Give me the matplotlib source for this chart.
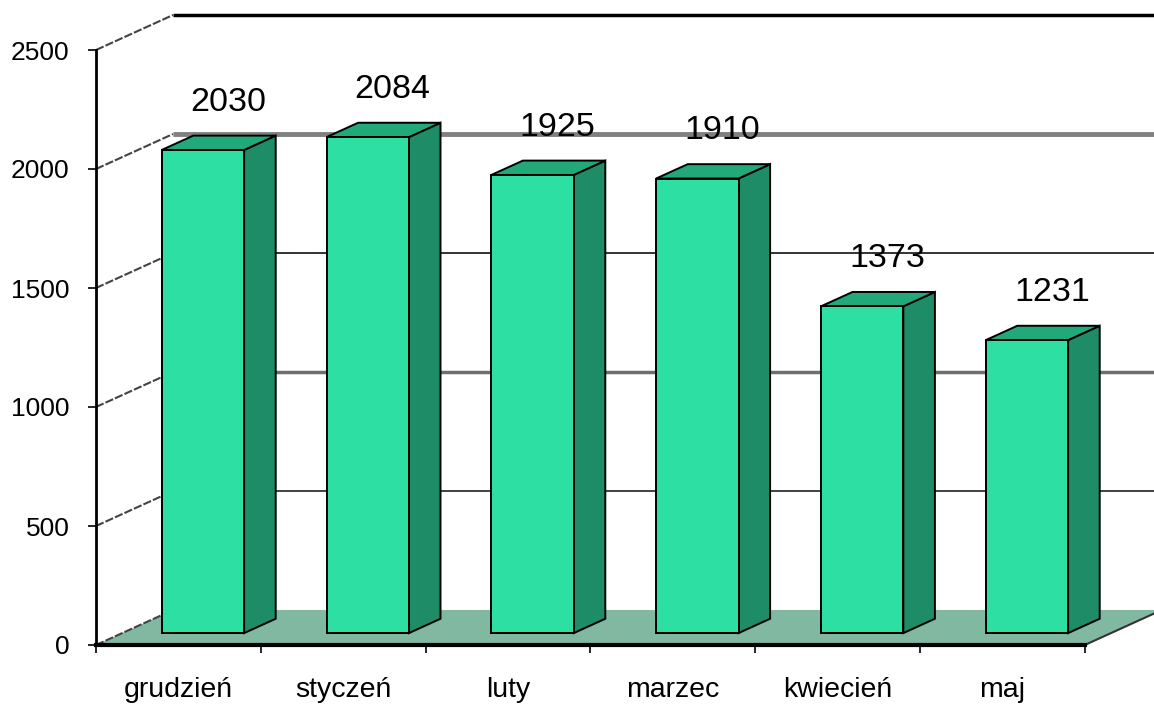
import numpy as np
import matplotlib.pyplot as plt
from matplotlib.patches import Polygon

plt.rcParams['font.family'] = ['Liberation Sans', 'DejaVu Sans']

months = ['grudzień', 'styczeń', 'luty', 'marzec', 'kwiecień', 'maj']
values = [2030, 2084, 1925, 1910, 1373, 1231]
y_ticks = [0, 500, 1000, 1500, 2000, 2500]

# pseudo 3d: depth offset of the back wall in data units
DX = 77 / 164.8
DY = 35 / 0.238
front_col = '#2EDFA3'
side_col = '#1E8C66'
top_col = '#22A97A'
floor_col = '#80B8A2'

fig = plt.figure(figsize=(11.54, 7.06), dpi=100)
ax = fig.add_axes([96 / 1154, 61 / 706, 1058 / 1154, 645 / 706])
ax.set_xlim(0, 1058 / 164.8)
ax.set_ylim(0, 645 / 0.238)

n = len(months)

# floor
ax.add_patch(Polygon([(0, 0), (n, 0), (n + DX, DY), (DX, DY)],
                     closed=True, facecolor=floor_col, edgecolor='none', zorder=1))
ax.plot([n, n + DX], [0, DY], color='#333333', lw=1.5, zorder=2)

# back wall gridlines + side wall diagonals
grid_style = {0: ('none', 0), 500: ('#333333', 1.3), 1000: ('#6e6e6e', 2.5),
              1500: ('#111111', 1.2), 2000: ('#808080', 3.5), 2500: ('black', 2.5)}
for t in y_ticks:
    col, lw = grid_style[t]
    if lw > 0:
        ax.plot([DX, ax.get_xlim()[1]], [t + DY, t + DY], color=col, lw=lw, zorder=2,
                solid_capstyle='butt')
    ax.plot([0, DX], [t, t + DY], color='#444444', lw=1.5, ls=(0, (4, 1)), zorder=2)

# bars
d0, d1 = 0.34, 0.75
for i, v in enumerate(values):
    x0 = i + 0.24
    x1 = x0 + 0.5
    fx0, fx1, fy = x0 + d0 * DX, x1 + d0 * DX, d0 * DY
    bx0, bx1, by = x0 + d1 * DX, x1 + d1 * DX, d1 * DY
    front = [(fx0, fy), (fx1, fy), (fx1, v + fy), (fx0, v + fy)]
    side = [(fx1, fy), (bx1, by), (bx1, v + by), (fx1, v + fy)]
    top = [(fx0, v + fy), (fx1, v + fy), (bx1, v + by), (bx0, v + by)]
    for poly, c in [(side, side_col), (top, top_col), (front, front_col)]:
        ax.add_patch(Polygon(poly, closed=True, facecolor=c, edgecolor='black',
                             lw=1.4, joinstyle='miter', zorder=3))
    ax.text(i + 0.8, v + by + 75, str(v), ha='center', va='bottom',
            fontsize=24.5, zorder=4)

# axes
for s in ['top', 'right']:
    ax.spines[s].set_visible(False)
ax.spines['left'].set_bounds(0, 2500)
ax.spines['left'].set_linewidth(2)
ax.spines['bottom'].set_bounds(0, n)
ax.spines['bottom'].set_linewidth(3)
ax.spines['left'].set_zorder(5)
ax.spines['bottom'].set_zorder(5)

ax.set_yticks(y_ticks)
ax.set_yticklabels([str(t) for t in y_ticks])
ax.tick_params(axis='y', length=6, width=1.2, pad=13, labelsize=19)

ax.set_xticks(np.arange(n + 1))
ax.set_xticklabels([''] * (n + 1))
ax.set_xticks(np.arange(n) + 0.5, minor=True)
ax.set_xticklabels(months, minor=True)
ax.tick_params(axis='x', which='major', length=6, width=1.2)
ax.tick_params(axis='x', which='minor', length=0, pad=23, labelsize=20.5)

fig.savefig('out.png', dpi=100)
